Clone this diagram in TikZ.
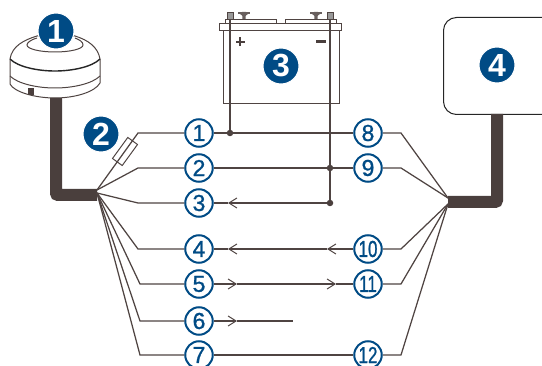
\documentclass[tikz,border=0pt]{standalone}
\usepackage{fontspec}
\setmainfont{Liberation Sans}
\newfontfamily\numfont[FakeBold=1.1]{Liberation Sans}
\usetikzlibrary{arrows.meta}
\definecolor{wirec}{HTML}{4F4442}
\definecolor{cablec}{HTML}{4A3F3D}
\definecolor{navy}{HTML}{004B85}
\tikzset{
  wire/.style={draw=wirec,line width=1.25pt},
  tip/.style={wire,-{Straight Barb[length=8pt,width=10pt,line width=1pt]}},
  cable/.style={draw=cablec,line width=12pt,rounded corners=2pt},
  num/.style={circle,draw=navy,line width=2pt,fill=white,text=navy,minimum size=27.5pt,inner sep=0pt,font=\numfont\fontsize{23}{23}\selectfont},
  badge/.style={circle,fill=navy,draw=white,line width=1pt,text=white,minimum size=36pt,inner sep=0pt,font=\bfseries\fontsize{32}{32}\selectfont},
  outl/.style={draw=wirec,line width=1pt},
  dot/.style={circle,fill=cablec,inner sep=0pt,minimum size=6.5pt},
}
\newcommand{\nar}[1]{\scalebox{.74}[1]{#1}}
\begin{document}
\begin{tikzpicture}[x=1pt,y=-1pt]
\useasboundingbox (0,0) rectangle (542,366);
\clip (0,0) rectangle (542,366);
% fan points
\coordinate (fLa) at (97,190);
\coordinate (fLb) at (97,193);
\coordinate (fRa) at (448,198);
\coordinate (fRb) at (448,204);
% dome
\draw[outl,fill=white] (10,59) .. controls (12,46) and (24,40) .. (37,36) -- (75,36) .. controls (88,40) and (98,47) .. (100,59) -- (100,83) .. controls (95,92) and (75,98) .. (55,98) .. controls (35,98) and (14,92) .. (10,84) -- cycle;
\draw[outl] (37,38) .. controls (30,40) and (27,43) .. (27,45) .. controls (27,49) and (40,52) .. (55,52) .. controls (70,52) and (83,49) .. (83,45) .. controls (83,42) and (80,40) .. (75,38);
\draw[draw=black!85,line width=1.4pt] (10,59) .. controls (18,67) and (38,71) .. (55,71) .. controls (72,71) and (92,67) .. (100,59);
\draw[outl] (10,76) .. controls (18,84) and (38,88) .. (55,88) .. controls (72,88) and (92,84) .. (100,76);
\node[rectangle,fill=cablec,minimum width=6pt,minimum height=7pt,inner sep=0pt] (port) at (30.5,92) {};
% device box
\node[draw=black!85,line width=1pt,rounded corners=13pt,minimum width=120pt,minimum height=97pt,inner sep=0pt,anchor=north west] (dev) at (443,17) {};
% cables
\coordinate (cabL) at (56,98);
\coordinate (cabLc) at (56,195);
\coordinate (cabLe) at (97,195);
\draw[cable] (cabL) -- (cabLc) -- (cabLe);
\coordinate (cabR) at (497,114);
\coordinate (cabRc) at (497,202);
\coordinate (cabRe) at (448,202);
\draw[cable] (cabR) -- (cabRc) -- (cabRe);
% battery
\node[outl,rectangle,minimum width=116pt,minimum height=73pt,inner sep=0pt,anchor=north west] (batt) at (222.5,30) {};
\node[outl,rectangle,minimum width=122pt,minimum height=7pt,inner sep=0pt,anchor=north west] (lid) at (219,23) {};
\node[outl,rectangle,minimum width=51pt,minimum height=4pt,inner sep=0pt,anchor=north west] (capa) at (224.5,19) {};
\node[outl,rectangle,minimum width=51pt,minimum height=4pt,inner sep=0pt,anchor=north west] (capb) at (284.5,19) {};
\node[draw=wirec,fill=black!40,line width=.9pt,minimum width=6pt,minimum height=7pt,inner sep=0pt] (tp) at (230,15.5) {};
\node[draw=wirec,fill=black!40,line width=.9pt,minimum width=6pt,minimum height=7pt,inner sep=0pt] (tn) at (330,15.5) {};
\foreach \x in {244,316}{
  \fill[wirec!85] (\x-6,12) rectangle (\x+6,14.2);
  \fill[wirec!85] (\x-2,12) -- (\x+2,12) -- (\x+1.5,19) -- (\x-1.5,19) -- cycle;
  \fill[wirec!85] (\x-4,14) -- (\x+4,14) -- (\x,17) -- cycle;
}
\fill[cablec] (235.5,41) rectangle (244.5,43);
\fill[cablec] (239,37.5) rectangle (241,46.5);
\fill[cablec] (316,40.5) rectangle (326,43.5);
% numbered circles
\node[num] (c1) at (199,133) {1};
\node[num] (c2) at (199,168) {2};
\node[num] (c3) at (199,203) {3};
\node[num] (c4) at (199,249) {4};
\node[num] (c5) at (199,284) {5};
\node[num] (c6) at (199,321) {6};
\node[num] (c7) at (199,355) {7};
\node[num] (c8) at (368,133) {8};
\node[num] (c9) at (368,168) {9};
\node[num] (c10) at (368,249) {\nar{10}};
\node[num] (c11) at (368,284) {\nar{11}};
\node[num] (c12) at (368,355) {\nar{12}};
% junctions
\node[dot] (d1) at (230,133) {};
\node[dot] (d2) at (330,168) {};
\node[dot] (d3) at (330,203) {};
% bends
\coordinate (b1) at (138,133);
\coordinate (b2) at (138,168);
\coordinate (b3) at (138,203);
\coordinate (b4) at (138,249);
\coordinate (b5) at (140,284);
\coordinate (b6) at (140,321);
\coordinate (b7) at (140,355);
\coordinate (b8) at (401,133);
\coordinate (b9) at (401,168);
\coordinate (b10) at (401,249);
\coordinate (b11) at (401,284);
\coordinate (b12) at (401,355);
% arrow tips and free end
\coordinate (a3) at (228,203);
\coordinate (a4) at (228,249);
\coordinate (a10) at (327,249);
\coordinate (a5) at (237,284);
\coordinate (a11) at (336,284);
\coordinate (a6) at (237,321);
\coordinate (e6) at (293,321);
% left wires
\draw[wire] (fLa) -- (b1) -- (c1);
\draw[wire] (fLa) -- (b2) -- (c2);
\draw[wire] (fLb) -- (b3) -- (c3);
\draw[wire] (fLb) -- (b4) -- (c4);
\draw[wire] (fLb) -- (b5) -- (c5);
\draw[wire] (fLb) -- (b6) -- (c6);
\draw[wire] (fLb) -- (b7) -- (c7);
% right wires
\draw[wire] (fRa) -- (b8) -- (c8);
\draw[wire] (fRa) -- (b9) -- (c9);
\draw[wire] (fRb) -- (b10) -- (c10);
\draw[wire] (fRb) -- (b11) -- (c11);
\draw[wire] (fRb) -- (b12) -- (c12);
% through wires
\draw[wire] (c1) -- (c8);
\draw[wire] (c2) -- (c9);
\draw[wire] (c7) -- (c12);
\draw[tip] (d3) -- (a3);
\draw[wire] (a3) -- (c3);
\draw[tip] (c10) -- (a10);
\draw[tip] (a10) -- (a4);
\draw[wire] (a4) -- (c4);
\draw[tip] (c5) -- (a5);
\draw[tip] (a5) -- (a11);
\draw[wire] (a11) -- (c11);
\draw[tip] (c6) -- (a6);
\draw[wire] (a6) -- (e6);
% battery leads
\draw[wire] (tp) -- (d1);
\draw[wire] (tn) -- (d3);
% fuse
\node[draw=wirec,line width=1pt,minimum width=26pt,minimum height=12pt,inner sep=0pt,rotate=54] (fuse) at (125,151.5) {};
% badges
\node[badge] (n1) at (56,31) {1};
\node[badge] (n2) at (101,134) {2};
\node[badge] (n3) at (281,66) {3};
\node[badge] (n4) at (497,65) {4};
\end{tikzpicture}
\end{document}
